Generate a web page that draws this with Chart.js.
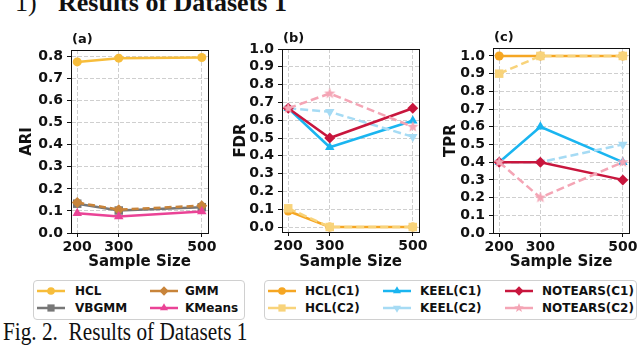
<!DOCTYPE html>
<html lang="en">
<head>
<meta charset="UTF-8">
<title>Results of Datasets 1</title>
<script src="https://cdn.jsdelivr.net/npm/chart.js"></script>
<style>
  body { margin: 0; background: #fff; width: 640px; height: 355px; overflow: hidden; position: relative; font-family: 'DejaVu Sans', sans-serif; }
  .panel { position: absolute; top: 30px; }
  .serif { position: absolute; font-family: 'Liberation Serif', 'Times New Roman', serif; color: #111; white-space: pre; }
  .heading { top: -10px; font-size: 26px; line-height: 26px; }
  .caption { left: 3px; top: 319px; font-size: 25px; line-height: 25px; transform: scaleX(0.85); transform-origin: left top; }
  .legend { position: absolute; top: 280px; height: 40px; border: 1px solid #d0d0d0; border-radius: 4px; background: #fff; box-sizing: border-box; }
  .item-label { position: absolute; font-size: 12px; line-height: 14px; font-weight: bold; color: #111; white-space: nowrap; }
  .item-icon { position: absolute; }
</style>
</head>
<body>
  <div class="serif heading" style="left:15px">1)</div>
  <div class="serif heading" style="left:58px;font-weight:bold">Results of Datasets 1</div>

  <canvas id="chartA" class="panel" style="left:0" width="220" height="250"></canvas>
  <canvas id="chartB" class="panel" style="left:220px" width="210" height="250"></canvas>
  <canvas id="chartC" class="panel" style="left:430px" width="210" height="250"></canvas>

  <div class="legend" style="left:33px;width:212px"></div>
  <div class="legend" style="left:264px;width:373px"></div>
  <div id="legendItems"></div>

  <div class="serif caption">Fig. 2.  Results of Datasets 1</div>

<script>
// data
const sampleSizes = [200, 300, 500];
const ariTicks = [0.0, 0.1, 0.2, 0.3, 0.4, 0.5, 0.6, 0.7, 0.8];
const rateTicks = [0.0, 0.1, 0.2, 0.3, 0.4, 0.5, 0.6, 0.7, 0.8, 0.9, 1.0];

const ariHCL = [0.776, 0.793, 0.796];
const ariVBGMM = [0.133, 0.102, 0.117];
const ariGMM = [0.138, 0.106, 0.124];
const ariKMeans = [0.09, 0.075, 0.097];

const fdrHCL1 = [0.09, 0.0, 0.0];
const fdrHCL2 = [0.105, 0.0, 0.0];
const fdrKEEL1 = [0.667, 0.448, 0.597];
const fdrKEEL2 = [0.667, 0.647, 0.507];
const fdrNOTEARS1 = [0.667, 0.5, 0.667];
const fdrNOTEARS2 = [0.667, 0.75, 0.563];

const tprHCL1 = [1.0, 1.0, 1.0];
const tprHCL2 = [0.9, 1.0, 1.0];
const tprKEEL1 = [0.4, 0.6, 0.4];
const tprKEEL2 = [0.4, 0.4, 0.5];
const tprNOTEARS1 = [0.4, 0.4, 0.3];
const tprNOTEARS2 = [0.4, 0.2, 0.4];

function starImage(color, r) {
  const c = document.createElement('canvas');
  c.width = c.height = Math.ceil(r * 2 + 2);
  const g = c.getContext('2d');
  g.fillStyle = color;
  g.beginPath();
  for (let i = 0; i < 10; i++) {
    const rr = i % 2 ? r * 0.42 : r;
    const a = -Math.PI / 2 + i * Math.PI / 5;
    g.lineTo(c.width / 2 + rr * Math.cos(a), c.height / 2 + rr * Math.sin(a));
  }
  g.closePath();
  g.fill();
  return c;
}

// line styles
const styles = {
  HCL:         { color: '#f7bd3b', marker: 'circle', radius: 4.5 },
  VBGMM:       { color: '#777777', marker: 'rect', radius: 6 },
  GMM:         { color: '#c8843a', marker: 'rectRot', radius: 5.5, dash: [7, 4] },
  KMeans:      { color: '#ea4396', marker: 'triangle', radius: 5.5 },
  'HCL(C1)':   { color: '#f5a623', marker: 'circle', radius: 4.5 },
  'HCL(C2)':   { color: '#f8d37a', marker: 'rect', radius: 6, dash: [8, 4] },
  'KEEL(C1)':  { color: '#1ab5f0', marker: 'triangle', radius: 5.5 },
  'KEEL(C2)':  { color: '#a6dbf4', marker: 'triangle', radius: 5.5, rotation: 180, dash: [8, 4] },
  'NOTEARS(C1)': { color: '#c8163d', marker: 'rectRot', radius: 5.5 },
  'NOTEARS(C2)': { color: '#f4a5b5', marker: 'star', radius: 6, dash: [8, 4] }
};
styles['NOTEARS(C2)'].image = starImage(styles['NOTEARS(C2)'].color, 6);

const framePlugin = {
  id: 'frame',
  beforeDatasetsDraw(chart) {
    const { ctx, chartArea: a } = chart;
    ctx.save();
    ctx.strokeStyle = '#111';
    ctx.lineWidth = 1;
    ctx.strokeRect(Math.round(a.left) + 0.5, Math.round(a.top) + 0.5,
      Math.round(a.right - a.left), Math.round(a.bottom - a.top));
    ctx.restore();
  },
  afterDraw(chart, args, opts) {
    const { ctx, chartArea: a } = chart;
    ctx.save();
    ctx.font = 'bold 13px "DejaVu Sans"';
    ctx.fillStyle = '#111';
    ctx.textBaseline = 'middle';
    ctx.fillText(opts.text, a.left + 1, a.top - 10);
    ctx.restore();
  }
};

function makePanel(id, cfg) {
  const axisFont = { family: 'DejaVu Sans', size: 14, weight: 'bold' };
  const titleFont = { family: 'DejaVu Sans', size: 15, weight: 'bold' };
  const grid = { color: '#cfcfcf', tickColor: '#111', tickLength: 4, lineWidth: 1 };
  const border = { color: '#111', dash: [4, 2] };
  return new Chart(document.getElementById(id), {
    type: 'line',
    data: {
      datasets: cfg.series.map((s, i, all) => {
        const st = styles[s.label];
        return {
          label: s.label,
          data: sampleSizes.map((x, j) => ({ x: x, y: s.values[j] })),
          borderColor: st.color,
          backgroundColor: st.color,
          borderWidth: 2.5,
          borderDash: st.dash || [],
          pointStyle: st.image || st.marker,
          pointRadius: st.radius,
          pointRotation: st.rotation || 0,
          pointBorderWidth: 0,
          tension: 0,
          clip: false,
          order: all.length - i
        };
      })
    },
    options: {
      responsive: false,
      animation: false,
      devicePixelRatio: 1,
      layout: { padding: { top: cfg.padTop, right: cfg.padRight, left: 0, bottom: 0 } },
      plugins: { legend: { display: false }, tooltip: { enabled: false }, frame: { text: cfg.tag } },
      scales: {
        x: {
          type: 'linear', min: 185, max: 515,
          afterBuildTicks: sc => { sc.ticks = sampleSizes.map(v => ({ value: v })); },
          afterFit: sc => { sc.height = cfg.xHeight; },
          ticks: { font: axisFont, color: '#111', padding: 2, maxRotation: 0, autoSkip: false, callback: v => String(v) },
          grid: grid, border: border,
          title: { display: true, text: 'Sample Size', font: titleFont, color: '#111', padding: { top: 0, bottom: 9 } }
        },
        y: {
          min: cfg.yMin, max: cfg.yMax,
          afterBuildTicks: sc => { sc.ticks = cfg.yTicks.map(v => ({ value: v })); },
          afterFit: sc => { sc.width = cfg.yWidth; },
          ticks: { font: axisFont, color: '#111', padding: 4, autoSkip: false, callback: v => v.toFixed(1) },
          grid: grid, border: border,
          title: { display: true, text: cfg.yTitle, font: titleFont, color: '#111', padding: { top: cfg.yTitlePad, bottom: 0 } }
        }
      }
    },
    plugins: [framePlugin]
  });
}

makePanel('chartA', {
  tag: '(a)', yTitle: 'ARI', yMin: 0, yMax: 0.83, yTicks: ariTicks,
  padTop: 20, padRight: 12, xHeight: 47, yWidth: 71, yTitlePad: 18,
  series: [
    { label: 'HCL', values: ariHCL },
    { label: 'VBGMM', values: ariVBGMM },
    { label: 'GMM', values: ariGMM },
    { label: 'KMeans', values: ariKMeans }
  ]
});

makePanel('chartB', {
  tag: '(b)', yTitle: 'FDR', yMin: -0.028, yMax: 1.0, yTicks: rateTicks,
  padTop: 19, padRight: 11, xHeight: 48, yWidth: 62, yTitlePad: 12.5,
  series: [
    { label: 'HCL(C1)', values: fdrHCL1 },
    { label: 'HCL(C2)', values: fdrHCL2 },
    { label: 'KEEL(C1)', values: fdrKEEL1 },
    { label: 'KEEL(C2)', values: fdrKEEL2 },
    { label: 'NOTEARS(C1)', values: fdrNOTEARS1 },
    { label: 'NOTEARS(C2)', values: fdrNOTEARS2 }
  ]
});

makePanel('chartC', {
  tag: '(c)', yTitle: 'TPR', yMin: 0, yMax: 1.045, yTicks: rateTicks,
  padTop: 18, padRight: 11, xHeight: 47, yWidth: 63, yTitlePad: 12.5,
  series: [
    { label: 'HCL(C1)', values: tprHCL1 },
    { label: 'HCL(C2)', values: tprHCL2 },
    { label: 'KEEL(C1)', values: tprKEEL1 },
    { label: 'KEEL(C2)', values: tprKEEL2 },
    { label: 'NOTEARS(C1)', values: tprNOTEARS1 },
    { label: 'NOTEARS(C2)', values: tprNOTEARS2 }
  ]
});

// legends: [label, iconX, textX, rowCenterY]
const legendEntries = [
  ['HCL', 37, 75, 291], ['VBGMM', 37, 75, 308],
  ['GMM', 150, 185, 291], ['KMeans', 150, 185, 308],
  ['HCL(C1)', 268, 305, 291], ['HCL(C2)', 268, 305, 308],
  ['KEEL(C1)', 383, 420, 291], ['KEEL(C2)', 383, 420, 308],
  ['NOTEARS(C1)', 505, 542, 291], ['NOTEARS(C2)', 505, 542, 308]
];
const holder = document.getElementById('legendItems');
legendEntries.forEach(([label, ix, tx, cy]) => {
  const st = styles[label];
  const c = document.createElement('canvas');
  c.width = 28; c.height = 14;
  c.className = 'item-icon';
  c.style.left = ix + 'px';
  c.style.top = (cy - 7) + 'px';
  const g = c.getContext('2d');
  g.strokeStyle = st.color;
  g.fillStyle = st.color;
  g.lineWidth = 2.5;
  g.beginPath(); g.moveTo(0, 7); g.lineTo(28, 7); g.stroke();
  if (st.image) {
    const im = starImage(st.color, 5);
    g.drawImage(im, 14 - im.width / 2, 7 - im.height / 2);
  } else if (Chart.helpers && Chart.helpers.drawPoint) {
    Chart.helpers.drawPoint(g, { pointStyle: st.marker, radius: st.radius * 0.85, rotation: st.rotation || 0, borderWidth: 0 }, 14, 7);
  }
  holder.appendChild(c);
  const t = document.createElement('div');
  t.className = 'item-label';
  t.style.left = tx + 'px';
  t.style.top = (cy - 7) + 'px';
  t.textContent = label;
  holder.appendChild(t);
});
</script>
</body>
</html>
